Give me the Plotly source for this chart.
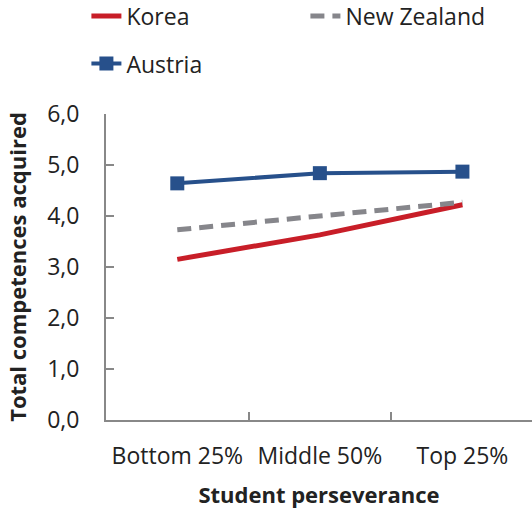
import plotly.graph_objects as go

categories = ["Bottom 25%", "Middle 50%", "Top 25%"]
korea = [3.15, 3.63, 4.22]
new_zealand = [3.73, 4.00, 4.27]
austria = [4.64, 4.84, 4.87]
y_ticks = [0, 1, 2, 3, 4, 5, 6]

FONT = "Open Sans"
TXT = "#222222"
AX = "#888888"

fig = go.Figure()
fig.add_trace(go.Scatter(x=categories, y=korea, name="Korea", mode="lines",
                         line=dict(color="#c81e28", width=5), legend="legend", cliponaxis=False))
fig.add_trace(go.Scatter(x=categories, y=new_zealand, name="New Zealand", mode="lines",
                         line=dict(color="#86868b", width=5, dash="14px,8px"), legend="legend", cliponaxis=False))
fig.add_trace(go.Scatter(x=categories, y=austria, name="Austria", mode="lines+markers",
                         line=dict(color="#27508b", width=4),
                         marker=dict(symbol="square", size=14, color="#27508b"),
                         legend="legend2", cliponaxis=False))

fig.update_layout(
    width=532, height=510,
    margin=dict(l=105.6, r=0, t=114, b=90, autoexpand=False),
    paper_bgcolor="white", plot_bgcolor="white",
    separators=",.",
    font=dict(family=FONT, size=23, color=TXT),
    showlegend=True,
    legend=dict(orientation="h", x=-0.046, xanchor="left", y=1.39, yanchor="top",
                entrywidth=174, entrywidthmode="pixels",
                font=dict(family=FONT, size=23, color=TXT), bgcolor="rgba(0,0,0,0)"),
    legend2=dict(orientation="h", x=-0.046, xanchor="left", y=1.235, yanchor="top",
                 font=dict(family=FONT, size=23, color=TXT), bgcolor="rgba(0,0,0,0)"),
    xaxis=dict(type="category", range=[-0.5, 2.488], showgrid=False, zeroline=False,
               showline=True, linecolor=AX, linewidth=2,
               ticks="inside", tickson="boundaries", ticklen=8, tickcolor=AX, tickwidth=1.5,
               ticklabelstandoff=14,
               tickfont=dict(family=FONT, size=23, color=TXT),
               title=dict(text="<b>Student perseverance</b>", standoff=18,
                          font=dict(family=FONT, size=22, color=TXT))),
    yaxis=dict(range=[0, 6], tickvals=y_ticks, tickformat=".1f", showgrid=False, zeroline=False,
               showline=True, linecolor=AX, linewidth=2,
               ticks="inside", ticklen=8, tickcolor=AX, tickwidth=1.5,
               ticklabelstandoff=20,
               tickfont=dict(family=FONT, size=23, color=TXT),
               title=dict(text="<b>Total competences acquired</b>", standoff=14,
                          font=dict(family=FONT, size=22, color=TXT))),
)

fig.write_html("out.html",
               config={"displayModeBar": False},
               post_script="document.body.style.margin='0';document.body.style.padding='0';")
